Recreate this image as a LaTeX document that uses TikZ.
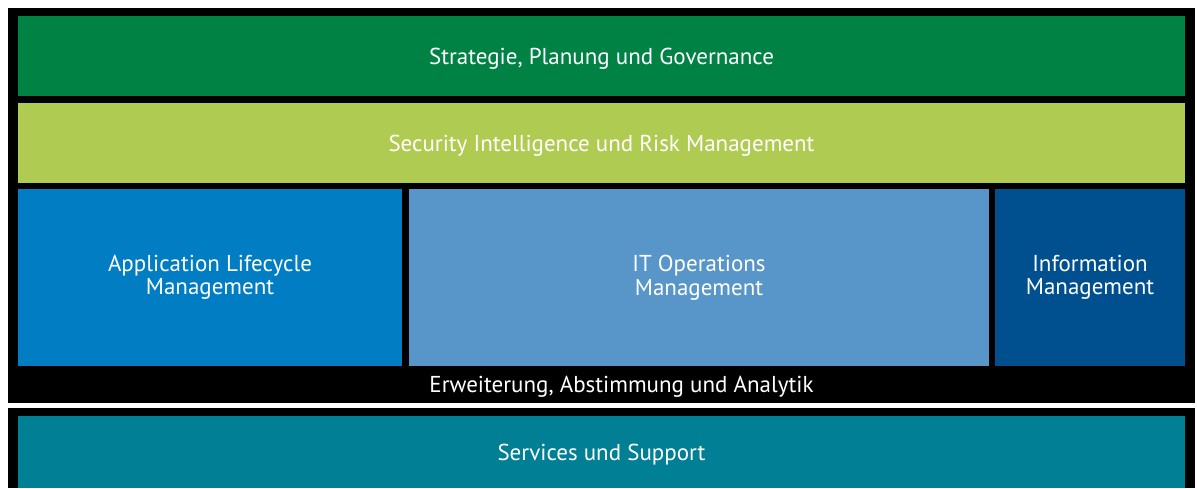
\documentclass[tikz,border=0pt]{standalone}
\usepackage{fontspec}
\setmainfont{PT Sans}
\usetikzlibrary{positioning}

\definecolor{govgreen}{HTML}{008244}
\definecolor{riskgreen}{HTML}{B0CB52}
\definecolor{almblue}{HTML}{007DC3}
\definecolor{opsblue}{HTML}{5895C9}
\definecolor{infoblue}{HTML}{00508F}
\definecolor{supteal}{HTML}{007F95}

\begin{document}
\begin{tikzpicture}[
  x=1pt, y=-1pt,
  box/.style={rectangle, inner sep=0pt, outer sep=0pt, text=white, font=\fontsize{23}{23.5}\selectfont, align=center},
  oneline/.style={box, text height=16pt, text depth=0pt},
  band/.style={oneline, minimum width=1167pt, minimum height=80pt}
]
  \useasboundingbox[fill=white] (0,0) rectangle (1197,488);

  % black frames
  \node[box, fill=black, minimum width=1187pt, minimum height=395pt] (frame) at (601.5,205.5) {};
  \node[box, fill=black, minimum width=1187pt, minimum height=80pt] (supframe) at (601.5,448) {};

  % layers
  \node[band, fill=govgreen] (strategy) at (601.5,56) {Strategie, Planung und Governance};
  \node[band, fill=riskgreen] (security) at (601.5,143) {Security Intelligence und Risk Management};
  \node[box, fill=almblue, minimum width=384pt, minimum height=177pt] (alm) at (210,277.5) {Application Lifecycle\\Management};
  \node[box, fill=opsblue, minimum width=580pt, minimum height=177pt] (itops) at (699,277.5) {IT Operations\\Management};
  \node[box, fill=infoblue, minimum width=190pt, minimum height=177pt] (infomgmt) at (1090,277.5) {Information\\Management};
  \node[oneline] (analytics) at (621.5,384) {Erweiterung, Abstimmung und Analytik};
  \node[band, fill=supteal, minimum height=72pt] (support) at (601.5,452) {Services und Support};
\end{tikzpicture}
\end{document}
